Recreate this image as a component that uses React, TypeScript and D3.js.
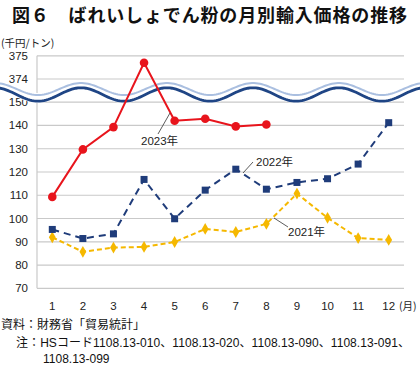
import React from "react";
import * as d3 from "d3";

const months = [1, 2, 3, 4, 5, 6, 7, 8, 9, 10, 11, 12];
const y2023 = [109.3, 129.7, 139.3, 374.7, 142.0, 142.9, 139.6, 140.4];
const y2022 = [95.3, 91.4, 93.4, 116.8, 99.9, 112.2, 121.2, 112.6, 115.5, 117.1, 123.4, 141.2];
const y2021 = [91.9, 85.7, 87.5, 87.8, 89.9, 95.5, 94.2, 97.7, 110.7, 100.3, 91.6, 90.8];
const yTicks = [70, 80, 90, 100, 110, 120, 130, 140, 150, 374, 375];

const W = 420;
const H = 369;
const FONT = "'Liberation Sans', 'Noto Sans CJK JP', sans-serif";
const JP = "'Noto Sans CJK JP', sans-serif";

export default function App() {
  const x = d3.scaleBand<number>().domain(months).range([37, 404]);
  const cx = (m: number) => (x(m) as number) + x.bandwidth() / 2;
  // broken axis: 70..150 then 374..375
  const y = d3.scaleLinear().domain([70, 150, 374, 375]).range([288.3, 102.2, 79, 55.8]);

  const line = d3.line<number>().x((d, i) => cx(months[i])).y((d) => y(d));

  const wave = (c: number, a: number) =>
    d3.line<number>().x((d) => d).y((d) => c - a * Math.cos((2 * Math.PI * (d - 167)) / 86))(
      d3.range(-2, W + 3, 2)
    ) as string;

  const diamond = d3.symbol().type(d3.symbolDiamond).size(40)() as string;

  return (
    <svg width={W} height={H} style={{ position: "absolute", left: 0, top: 0, background: "#fff" }}>
      <text x={12} y={22} fontFamily={JP} fontWeight="bold" fontSize={18} textLength={395} lengthAdjust="spacing" fill="#111">
        図６　ばれいしょでん粉の月別輸入価格の推移
      </text>
      <text x={1} y={47} fontFamily={JP} fontSize={10.5} fill="#222">(千円/トン)</text>

      {/* grid */}
      {yTicks.map((t) => (
        <line key={t} x1={37} x2={404} y1={y(t)} y2={y(t)} stroke="#c9c9c9" strokeWidth={1.2} />
      ))}
      <line x1={37} x2={37} y1={y(375)} y2={y(70)} stroke="#c9c9c9" strokeWidth={1.2} />

      {yTicks.map((t) => (
        <text key={t} x={28} y={y(t) + 4} textAnchor="end" fontFamily={FONT} fontSize={11.5} fill="#222">
          {t}
        </text>
      ))}
      {months.map((m) => (
        <text key={m} x={cx(m)} y={310} textAnchor="middle" fontFamily={FONT} fontSize={11.5} fill="#222">
          {m}
        </text>
      ))}
      <text x={399} y={310} fontFamily={JP} fontSize={10.5} fill="#222">(月)</text>

      {/* axis break */}
      <path d={wave(91.6, 6.3)} fill="none" stroke="#fff" strokeWidth={10} />
      <path d={wave(89, 6)} fill="none" stroke="#aabfe0" strokeWidth={2} />
      <path d={wave(94.5, 6.7)} fill="none" stroke="#1f4585" strokeWidth={2.8} />

      {/* 2021 */}
      <path d={line(y2021) as string} fill="none" stroke="#f5b800" strokeWidth={2} strokeDasharray="5,3" />
      {y2021.map((v, i) => (
        <path key={i} d={diamond} transform={`translate(${cx(months[i])},${y(v)})`} fill="#f5b800" />
      ))}

      {/* 2022 */}
      <path d={line(y2022) as string} fill="none" stroke="#1f3c7a" strokeWidth={2} strokeDasharray="7,5" />
      {y2022.map((v, i) => (
        <rect key={i} x={cx(months[i]) - 3.5} y={y(v) - 3.5} width={7} height={7} fill="#1f3c7a" />
      ))}

      {/* 2023 */}
      <path d={line(y2023) as string} fill="none" stroke="#e8141c" strokeWidth={2} />
      {y2023.map((v, i) => (
        <circle key={i} cx={cx(months[i])} cy={y(v)} r={4.3} fill="#e8141c" />
      ))}

      {/* labels */}
      <line x1={158} y1={134} x2={170} y2={113} stroke="#333" strokeWidth={0.8} />
      <text x={141} y={145} fontFamily={FONT} fontSize={11.5} fill="#222">2023年</text>
      <line x1={243} y1={173} x2={253} y2={162} stroke="#333" strokeWidth={0.8} />
      <text x={256} y={166} fontFamily={FONT} fontSize={11.5} fill="#222">2022年</text>
      <line x1={274} y1={218} x2={288} y2={227} stroke="#333" strokeWidth={0.8} />
      <text x={288} y={236} fontFamily={FONT} fontSize={11.5} fill="#222">2021年</text>

      {/* footer */}
      <text x={1} y={329} fontFamily={FONT} fontSize={12} fill="#111">資料：財務省「貿易統計」</text>
      <text x={16} y={347} fontFamily={FONT} fontSize={12} fill="#111" textLength={394} lengthAdjust="spacing">
        注：HSコード1108.13-010、1108.13-020、1108.13-090、1108.13-091、
      </text>
      <text x={43} y={363} fontFamily={FONT} fontSize={12} fill="#111">1108.13-099</text>
    </svg>
  );
}
